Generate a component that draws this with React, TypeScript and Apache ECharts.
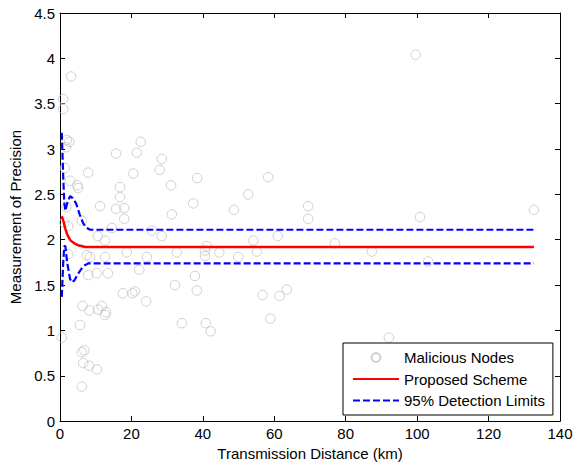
import React, { useEffect, useRef } from "react";
import * as echarts from "echarts";

const FONT = "Liberation Sans, Arial, Helvetica, sans-serif";

// Malicious nodes (x: km, y: precision)
const nodeX = [3.1, 0.9, 0.9, 1.9, 2.6, 1.7, 22.6, 15.7, 21.5, 28.5, 1.4, 7.9, 20.5, 27.9, 38.4, 2.8, 4.8, 5.1, 31.1, 16.8, 16.8, 37.3, 11.2, 15.7, 18.0, 31.3, 18.0, 1.8, 6.1, 1.2, 2.3, 14.5, 25.7, 28.5, 10.6, 12.6, 7.5, 8.4, 12.6, 18.7, 24.3, 2.3, 7.9, 10.3, 13.4, 22.2, 37.8, 32.2, 38.3, 17.6, 20.3, 21.0, 24.1, 6.3, 8.2, 10.7, 11.7, 12.9, 12.6, 5.6, 34.1, 0.5, 6.8, 6.1, 6.5, 8.2, 10.3, 6.1, 58.3, 52.7, 48.7, 69.5, 69.5, 54.1, 61.0, 77.0, 41.1, 40.6, 40.6, 44.6, 49.9, 55.1, 87.3, 56.7, 61.5, 63.5, 58.9, 40.8, 42.2, 92.1, 100.8, 132.7, 103.1, 99.6, 32.7];
const nodeY = [3.80, 3.55, 3.44, 3.10, 3.08, 3.02, 3.08, 2.95, 2.96, 2.89, 2.79, 2.74, 2.73, 2.77, 2.68, 2.65, 2.60, 2.57, 2.60, 2.58, 2.47, 2.40, 2.37, 2.34, 2.35, 2.28, 2.23, 2.36, 2.21, 2.19, 2.15, 2.13, 2.10, 2.04, 2.04, 1.99, 1.83, 1.81, 1.81, 1.86, 1.81, 1.84, 1.61, 1.63, 1.63, 1.67, 1.60, 1.50, 1.44, 1.41, 1.41, 1.43, 1.32, 1.27, 1.22, 1.23, 1.27, 1.20, 1.17, 1.06, 1.08, 0.92, 0.78, 0.76, 0.64, 0.61, 0.57, 0.38, 2.69, 2.50, 2.33, 2.37, 2.23, 1.99, 2.04, 1.96, 1.93, 1.88, 1.82, 1.86, 1.81, 1.87, 1.87, 1.39, 1.38, 1.45, 1.13, 1.08, 0.99, 0.92, 2.25, 2.33, 1.76, 4.04, 1.86];

// Proposed scheme curve
const schemeX = [0.5, 1.0, 1.5, 2.0, 2.5, 3.0, 4.0, 5.0, 6.0, 7.0, 132.7];
const schemeY = [2.26, 2.2, 2.12, 2.06, 2.02, 1.99, 1.96, 1.94, 1.93, 1.92, 1.92];

// 95% detection limits
const upperX = [0.5, 0.9, 1.2, 1.5, 2.0, 2.8, 3.5, 4.5, 5.5, 6.5, 7.5, 8.5, 132.7];
const upperY = [3.18, 2.7, 2.4, 2.32, 2.4, 2.48, 2.46, 2.4, 2.28, 2.18, 2.13, 2.11, 2.11];
const lowerX = [0.5, 0.9, 1.2, 1.5, 2.0, 2.8, 3.3, 4.0, 5.0, 6.0, 7.0, 8.0, 132.7];
const lowerY = [1.37, 1.75, 1.93, 1.93, 1.75, 1.57, 1.53, 1.55, 1.62, 1.68, 1.72, 1.74, 1.74];

const xTicks = [0, 20, 40, 60, 80, 100, 120, 140];
const yTicks = [0, 0.5, 1, 1.5, 2, 2.5, 3, 3.5, 4, 4.5];

const zip = (xs: number[], ys: number[]) => xs.map((x, i) => [x, ys[i]]);

export default function App() {
  const ref = useRef<HTMLDivElement>(null);
  useEffect(() => {
    if (!ref.current) return;
    const chart = echarts.init(ref.current, undefined, { renderer: "svg" });
    const xMin = xTicks[0], xMax = xTicks[xTicks.length - 1];
    const yMin = yTicks[0], yMax = yTicks[yTicks.length - 1];
    const axisCommon = {
      axisLine: { show: true, onZero: false, lineStyle: { color: "#000", width: 1 } },
      axisTick: { show: true, inside: true, length: 5, lineStyle: { color: "#000" } },
      splitLine: { show: false },
    };
    const blueLine = { color: "#0000ff", width: 2.2, type: [7, 3] as number[] };
    const txt = { fontSize: 15, color: "#000", fontFamily: FONT };
    chart.setOption({
      animation: false,
      backgroundColor: "#fff",
      grid: { left: 60, top: 13, width: 500, height: 410, containLabel: false },
      xAxis: [
        {
          type: "value", min: xMin, max: xMax, interval: 20, position: "bottom",
          ...axisCommon,
          axisLabel: { show: true, margin: 5, ...txt },
          name: "Transmission Distance (km)", nameLocation: "middle", nameGap: 23,
          nameTextStyle: txt,
        },
        {
          type: "value", min: xMin, max: xMax, interval: 20, position: "top",
          ...axisCommon, axisLabel: { show: false },
        },
      ],
      yAxis: [
        {
          type: "value", min: yMin, max: yMax, interval: 0.5, position: "left",
          ...axisCommon,
          axisLabel: { show: true, margin: 5, ...txt },
          name: "Measurement of Precision", nameLocation: "middle", nameGap: 33, nameRotate: 90,
          nameTextStyle: txt,
        },
        {
          type: "value", min: yMin, max: yMax, interval: 0.5, position: "right",
          ...axisCommon, axisLabel: { show: false },
        },
      ],
      legend: {
        orient: "vertical", left: 343, top: 343,
        backgroundColor: "#fff", borderColor: "#000", borderWidth: 1, borderRadius: 0,
        padding: [7, 8, 7, 9], itemWidth: 46, itemHeight: 9, itemGap: 6.5,
        textStyle: txt,
        data: [
          { name: "Malicious Nodes", icon: "circle" },
          { name: "Proposed Scheme", itemStyle: { opacity: 0 } },
          { name: "95% Detection Limits", itemStyle: { opacity: 0 } },
        ],
      },
      series: [
        {
          name: "Malicious Nodes", type: "scatter", symbol: "circle", symbolSize: 9.5,
          xAxisIndex: 0, yAxisIndex: 0,
          itemStyle: { color: "rgba(255,255,255,0)", borderColor: "#c4c4c4", borderWidth: 1 },
          data: zip(nodeX, nodeY), z: 2,
        },
        {
          name: "Proposed Scheme", type: "line", symbol: "none", showSymbol: false,
          lineStyle: { color: "#ff0000", width: 2.5 }, itemStyle: { color: "#ff0000" },
          data: zip(schemeX, schemeY), z: 3,
        },
        {
          name: "95% Detection Limits", type: "line", symbol: "none", showSymbol: false,
          lineStyle: blueLine, itemStyle: { color: "#0000ff" },
          data: zip(upperX, upperY), z: 3,
        },
        {
          name: "95% Detection Limits", type: "line", symbol: "none", showSymbol: false,
          lineStyle: blueLine, itemStyle: { color: "#0000ff" },
          data: zip(lowerX, lowerY), z: 3,
        },
      ],
    });
    return () => chart.dispose();
  }, []);
  return (
    <div
      ref={ref}
      style={{ position: "fixed", left: 0, top: 0, width: 581, height: 466, background: "#fff" }}
    />
  );
}
